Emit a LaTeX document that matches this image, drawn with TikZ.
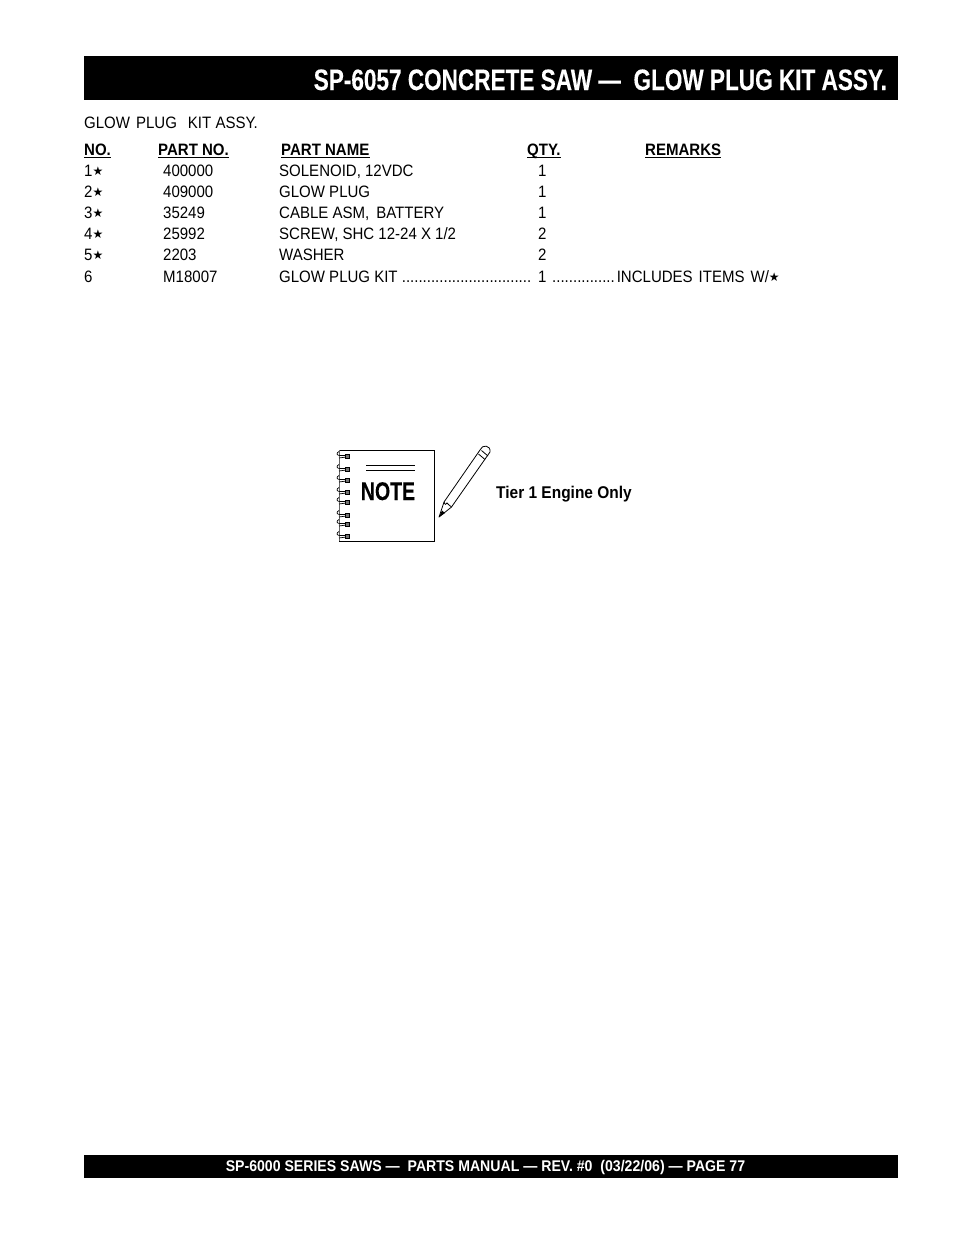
\documentclass[tikz,border=0pt]{standalone}
\usepackage{fontspec}
\setmainfont{Liberation Sans}[FakeStretch=0.91]
\newfontfamily\narrowfont{Liberation Sans}[FakeStretch=0.765,FakeBold=0.2,Ligatures=TeX]
\newfontfamily\starfont{DejaVu Sans}
\newcommand{\kitstar}{{\starfont\fontsize{12}{12}\selectfont\raisebox{.5pt}{★}}}
\tikzset{
  cell/.style={anchor=base west,inner sep=0pt,font=\fontsize{16.5}{18}\selectfont},
  headcell/.style={anchor=base west,inner sep=0pt,font=\fontsize{16.5}{18}\selectfont\bfseries},
  headrule/.style={line width=1pt},
  band/.style={fill=black,draw=none},
  ring/.style={line width=.7pt},
}
\begin{document}
\begin{tikzpicture}[x=1pt,y=-1pt]
\useasboundingbox (0,0) rectangle (954,1235);
\fill[white] (0,0) rectangle (954,1235);
% title and footer
\fill[band] (84,56) rectangle (898,100);
\fill[band] (84,1155) rectangle (898,1178);
\node[anchor=base east,inner sep=0pt,text=white,font=\fontsize{29.5}{32}\selectfont\narrowfont\bfseries] (title) at (887,90) {SP-6057 CONCRETE SAW --- \ GLOW PLUG KIT ASSY.};
\node[anchor=base,inner sep=0pt,text=white,font=\fontsize{15.5}{16}\selectfont\bfseries] (footer) at (485.5,1171) {SP-6000 SERIES SAWS --- \ PARTS MANUAL --- REV. \#0 \ (03/22/06) --- PAGE 77};
\node[cell] (kit) at (84,128) {GLOW\hspace{6pt}PLUG\hspace{11pt}KIT ASSY.};
% table head
\node[headcell] (hno) at (84,155) {NO.};
\node[headcell] (hpart) at (158,155) {PART NO.};
\node[headcell] (hname) at (281,155) {PART NAME};
\node[headcell] (hqty) at (527,155) {QTY.};
\node[headcell] (hrem) at (645,155) {REMARKS};
\foreach \n in {hno,hpart,hname,hqty,hrem}
{
    \draw[headrule] ([yshift=-2.5pt]\n.base west)--([yshift=-2.5pt]\n.base east);
}
% table rows
\foreach \i/\y/\no/\part/\pname/\qty in {
  1/176/1\kitstar/400000/{SOLENOID, 12VDC}/1,
  2/197/2\kitstar/409000/GLOW PLUG/1,
  3/218/3\kitstar/35249/{CABLE ASM,\hspace{7pt}BATTERY}/1,
  4/239/4\kitstar/25992/{SCREW, SHC 12-24 X 1/2}/2,
  5/260/5\kitstar/2203/WASHER/2}
{
    \node[cell] (no\i) at (84,\y) {\no};
    \node[cell] (part\i) at (163,\y) {\part};
    \node[cell] (name\i) at (279,\y) {\pname};
    \node[cell] (qty\i) at (538,\y) {\qty};
}
\node[cell] (no6) at (84,282) {6};
\node[cell] (part6) at (163,282) {M18007};
\node[cell] (name6) at (279,282) {GLOW PLUG KIT ...............................};
\node[cell] (qty6) at (538,282) {1};
\node[cell] (rem6) at (552,282) {...............\hspace{2pt}INCLUDES\hspace{6pt}ITEMS\hspace{6pt}W/\kitstar};
% note pad
\draw[line width=.9pt] (434,450)--(339,450);
\draw[line width=.9pt] (434,450)--(434,541)--(339,541);
\draw[line width=.5pt,black!60] (339,450)--(339,541);
\draw[line width=.8pt] (366,465)--(415,465);
\draw[line width=.8pt] (366,470)--(415,470);
\node[anchor=base,inner sep=0pt,font=\fontsize{25.5}{26}\selectfont\narrowfont\bfseries] (note) at (388,500) {NOTE};
\foreach \y in {456,469,480,492,502,515,524,536}
{
    \draw[ring] (339,\y-4.5) .. controls (336,\y-3) and (336.5,\y-.5) .. (340,\y-.5)--(346,\y-.5);
    \draw[ring] (339,\y+2)--(346,\y+1);
    \draw[line width=.8pt,fill=black!55] (345.5,\y-2) rectangle (349.5,\y+2);
}
% pencil
\draw[line width=.8pt,line join=round] (444,502)--(480,450) .. controls (482,444) and (491,445) .. (490,452)--(451.5,507)--(439,517)--cycle;
\draw[line width=.8pt] (444,502) .. controls (445,505) and (446,505) .. (447,503) .. controls (448,505) and (450,505) .. (451.5,507);
\draw[line width=.8pt] (478.5,454)--(485,459.5);
\draw[line width=.8pt] (481.5,450.5)--(488,456);
\fill (439,517)--(442,510.5)--(445,513)--cycle;
\node[anchor=base west,inner sep=0pt,font=\fontsize{17}{18}\selectfont\bfseries] (engine) at (496,498.5) {Tier 1 Engine Only};
\end{tikzpicture}
\end{document}
